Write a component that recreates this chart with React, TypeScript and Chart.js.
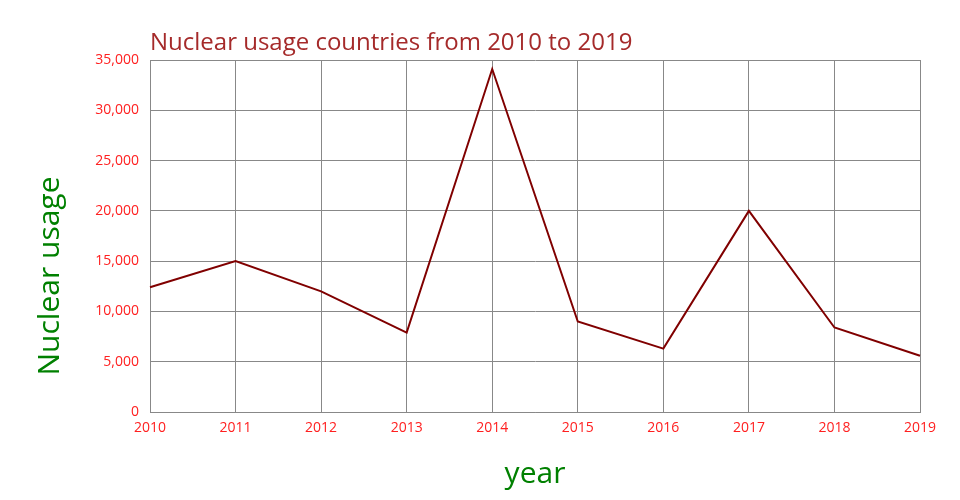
import React, { useEffect, useRef } from "react";
import { Chart, registerables } from "chart.js";

Chart.register(...registerables);

const years = ["2010", "2011", "2012", "2013", "2014", "2015", "2016", "2017", "2018", "2019"];
const usage = [12400, 15000, 12000, 7900, 34100, 9000, 6300, 20000, 8400, 5600];
const titleText = "Nuclear usage countries from 2010 to 2019";
const yTitle = "Nuclear usage";
const xTitle = "year";

const FONT = "'Open Sans', sans-serif";

export default function App() {
  const ref = useRef<HTMLCanvasElement>(null);
  useEffect(() => {
    document.body.style.margin = "0";
    const titlePlugin = {
      id: "leftTitle",
      afterDraw(chart: any) {
        const ctx = chart.ctx;
        ctx.save();
        ctx.font = `24px ${FONT}`;
        ctx.fillStyle = "#a52a2a";
        ctx.textAlign = "left";
        ctx.textBaseline = "alphabetic";
        ctx.fillText(titleText, chart.chartArea.left, 50);
        ctx.restore();
        ctx.save();
        ctx.font = `30px ${FONT}`;
        ctx.fillStyle = "#008000";
        ctx.textAlign = "center";
        ctx.textBaseline = "middle";
        ctx.translate(50, 276);
        ctx.rotate(-Math.PI / 2);
        ctx.fillText(yTitle, 0, 0);
        ctx.restore();
      },
    };
    const chart = new Chart(ref.current!, {
      type: "line",
      data: {
        labels: years,
        datasets: [
          {
            data: usage,
            borderColor: "#800000",
            borderWidth: 2,
            pointRadius: 0,
            fill: false,
            tension: 0,
          },
        ],
      },
      options: {
        responsive: false,
        animation: false,
        layout: { padding: { top: 60, right: 40, left: 0, bottom: 0 } },
        plugins: { legend: { display: false }, tooltip: { enabled: false } },
        scales: {
          x: {
            grid: { color: "#888", drawTicks: false },
            border: { color: "#888" },
            ticks: { color: "#ff2020", font: { family: FONT, size: 14 }, padding: 8, maxRotation: 0 },
            title: { display: true, text: xTitle, color: "#008000", font: { family: FONT, size: 30 }, padding: { top: 0, bottom: 8 } },
            afterFit: (s: any) => { s.height = 88; },
          },
          y: {
            min: 0,
            max: 35000,
            grid: { color: "#888", drawTicks: false },
            border: { color: "#888" },
            ticks: { stepSize: 5000, color: "#ff2020", font: { family: FONT, size: 14 }, padding: 11 },
            afterFit: (s: any) => { s.width = 150; },
          },
        },
      },
      plugins: [titlePlugin],
    });
    return () => chart.destroy();
  }, []);
  return <canvas ref={ref} width={960} height={500} style={{ display: "block" }} />;
}
